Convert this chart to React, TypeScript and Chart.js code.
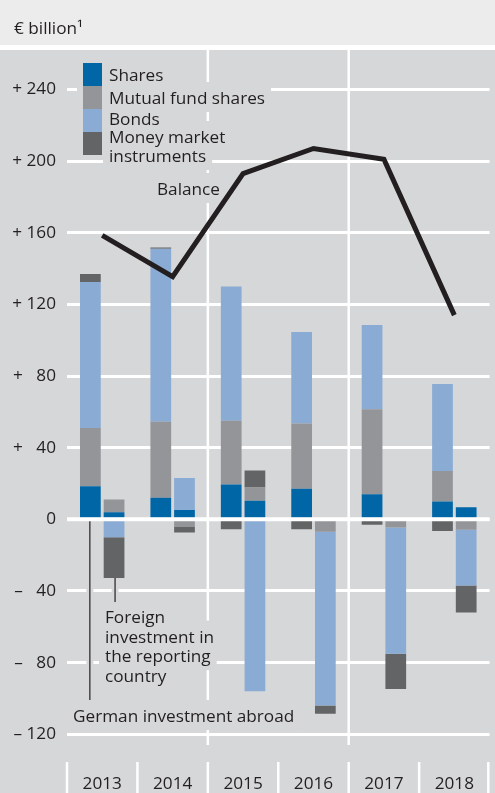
import React, { useEffect, useRef } from 'react';
import { Chart, registerables } from 'chart.js';

Chart.register(...registerables);

// ---------- data ----------
const YEARS = ['2013', '2014', '2015', '2016', '2017', '2018'];
const SERIES_LABELS = ['Shares', 'Mutual fund shares', 'Bonds', 'Money market instruments'];

// German investment abroad (left bar of each year)
const ABROAD_SHARES = [18.5, 12, 19.5, 17, 14, 10];
const ABROAD_FUNDS = [32.5, 42.5, 35.5, 36.5, 47.5, 17];
const ABROAD_BONDS = [81.5, 96.5, 75, 51, 47, 48.5];
const ABROAD_MONEY = [4.5, 0.8, -5.5, -5.5, -3, -6.5];

// Foreign investment in the reporting country (right bar of each year)
const FOREIGN_SHARES = [4, 5.2, 10.4, 0, 0, 6.7];
const FOREIGN_FUNDS = [7, -4.3, 7.4, -6.9, -4.6, -5.8];
const FOREIGN_BONDS = [-10, 17.9, -96, -97, -70.5, -31.2];
const FOREIGN_MONEY = [-22.7, -3.1, 9.5, -4.6, -19.7, -15];

// Balance line
const BALANCE = [158.5, 135.5, 193, 207, 201, 114];

const Y_TICKS = [-120, -80, -40, 0, 40, 80, 120, 160, 200, 240];
const SECTION_STARTS = ['2015', '2017'];

const TITLE = '€ billion¹';
const LEGEND_LINES = [['Shares'], ['Mutual fund shares'], ['Bonds'], ['Money market', 'instruments']];
const BALANCE_LABEL = 'Balance';
const FOREIGN_LABEL = ['Foreign', 'investment in', 'the reporting', 'country'];
const ABROAD_LABEL = 'German investment abroad';

// ---------- styles ----------
const COLORS = ['#0066a6', '#939598', '#8aabd3', '#636466'];
const FONT_FAMILY = '"Open Sans", "Noto Sans", sans-serif';
const FONT_SIZE = 17.2;
const TEXT = '#231f20';
const PLOT_BG = '#d6d7d9';
const HEAD_BG = '#ececed';

function fmtTick(v: number): string {
  if (v === 0) return '0';
  const a = Math.abs(v);
  const sign = v > 0 ? '+' : '–';
  return a < 100 ? sign + '   ' + a : sign + ' ' + a;
}

export default function App() {
  const ref = useRef<HTMLCanvasElement>(null);

  useEffect(() => {
    document.body.style.margin = '0';
    const canvas = ref.current!;
    const font = `${FONT_SIZE}px ${FONT_FAMILY}`;

    const halo = (ctx: CanvasRenderingContext2D, text: string, x: number, base: number) => {
      const w = ctx.measureText(text).width;
      ctx.fillStyle = PLOT_BG;
      ctx.fillRect(x - 6, base - 22, w + 12, 30);
    };

    const deco = {
      id: 'deco',
      beforeDraw(chart: any) {
        const { ctx, width, height } = chart;
        ctx.save();
        ctx.fillStyle = HEAD_BG;
        ctx.fillRect(0, 0, width, 45);
        ctx.fillStyle = '#ffffff';
        ctx.fillRect(0, 45, width, 5);
        ctx.fillStyle = PLOT_BG;
        ctx.fillRect(0, 50, width, height - 50);
        ctx.font = font;
        ctx.fillStyle = TEXT;
        ctx.textBaseline = 'alphabetic';
        ctx.fillText(TITLE, 14, 34);
        ctx.restore();
      },
      beforeDatasetsDraw(chart: any) {
        const { ctx, chartArea: ca, scales, height } = chart;
        const x = scales.x;
        const y = scales.y;
        const half = (x.getPixelForValue(1) - x.getPixelForValue(0)) / 2;
        ctx.save();
        // section lines
        ctx.strokeStyle = '#ffffff';
        ctx.lineWidth = 2.5;
        for (const yr of SECTION_STARTS) {
          const bx = x.getPixelForValue(YEARS.indexOf(yr)) - half;
          ctx.beginPath();
          ctx.moveTo(bx, ca.top);
          ctx.lineTo(bx, ca.bottom);
          ctx.stroke();
        }
        // axis separators
        for (let i = 0; i <= YEARS.length; i++) {
          const bx = Math.min(x.getPixelForValue(0) - half + i * 2 * half, ca.right - 1.25);
          ctx.beginPath();
          ctx.moveTo(bx, 762);
          ctx.lineTo(bx, height);
          ctx.stroke();
        }

        ctx.font = font;
        ctx.textBaseline = 'alphabetic';
        // legend halos
        ctx.fillStyle = PLOT_BG;
        ctx.fillRect(77, 57, 31, 101);
        const legendBases = [[81], [104], [125], [143, 162]];
        LEGEND_LINES.forEach((lines, i) => lines.forEach((t, j) => halo(ctx, t, 109, legendBases[i][j])));
        halo(ctx, BALANCE_LABEL, 157, 195);
        FOREIGN_LABEL.forEach((t, j) => halo(ctx, t, 105, 623 + j * 19.6));
        halo(ctx, ABROAD_LABEL, 73, 722);

        // leader lines
        const y0 = y.getPixelForValue(0);
        const abroadBar = chart.getDatasetMeta(1).data[0];
        const foreignBottom = chart.getDatasetMeta(8).data[0];
        const leaders = [
          [abroadBar.x - 0.5, y0, 700],
          [foreignBottom.x + 1, foreignBottom.y, 602],
        ];
        for (const [lx, y1, y2] of leaders) {
          ctx.strokeStyle = PLOT_BG;
          ctx.lineWidth = 7;
          ctx.beginPath();
          ctx.moveTo(lx, y1);
          ctx.lineTo(lx, y2);
          ctx.stroke();
          ctx.strokeStyle = TEXT;
          ctx.lineWidth = 1.2;
          ctx.beginPath();
          ctx.moveTo(lx, y1);
          ctx.lineTo(lx, y2);
          ctx.stroke();
        }

        // legend
        LEGEND_LINES.forEach((lines, i) => {
          ctx.fillStyle = COLORS[i];
          ctx.fillRect(83, 63 + i * 23, 19, 23);
          ctx.fillStyle = TEXT;
          lines.forEach((t, j) => ctx.fillText(t, 109, legendBases[i][j]));
        });
        ctx.fillStyle = TEXT;
        ctx.fillText(BALANCE_LABEL, 157, 195);
        FOREIGN_LABEL.forEach((t, j) => ctx.fillText(t, 105, 623 + j * 19.6));
        ctx.fillText(ABROAD_LABEL, 73, 722);
        ctx.restore();
      },
      afterDatasetsDraw(chart: any) {
        const { ctx, chartArea: ca, scales } = chart;
        const y0 = scales.y.getPixelForValue(0);
        ctx.save();
        ctx.strokeStyle = '#ffffff';
        ctx.lineWidth = 4;
        ctx.beginPath();
        ctx.moveTo(ca.left, y0);
        ctx.lineTo(ca.right, y0);
        ctx.stroke();
        ctx.restore();
      },
    };

    const abroad = [ABROAD_SHARES, ABROAD_FUNDS, ABROAD_BONDS, ABROAD_MONEY];
    const foreign = [FOREIGN_SHARES, FOREIGN_FUNDS, FOREIGN_BONDS, FOREIGN_MONEY];
    const barCommon = {
      type: 'bar' as const,
      categoryPercentage: 0.673,
      barPercentage: 0.875,
      borderWidth: 0,
    };

    const chart = new Chart(canvas, {
      type: 'bar',
      data: {
        labels: YEARS,
        datasets: [
          {
            type: 'line',
            label: 'Balance',
            data: BALANCE,
            borderColor: TEXT,
            borderWidth: 5,
            pointRadius: 0,
            tension: 0,
            order: -1,
            stack: 'balance',
            borderJoinStyle: 'miter',
            borderCapStyle: 'butt',
          } as any,
          ...abroad.map((d, i) => ({ ...barCommon, label: SERIES_LABELS[i], data: d, backgroundColor: COLORS[i], stack: 'abroad' })),
          ...foreign.map((d, i) => ({ ...barCommon, label: SERIES_LABELS[i], data: d, backgroundColor: COLORS[i], stack: 'foreign' })),
        ],
      },
      options: {
        responsive: false,
        animation: false,
        layout: { padding: { top: 50, left: 0, right: 0, bottom: 0 } },
        plugins: {
          legend: { display: false },
          tooltip: { enabled: false },
        },
        scales: {
          x: {
            stacked: true,
            offset: true,
            grid: { display: false },
            border: { display: false },
            ticks: {
              color: TEXT,
              font: { family: FONT_FAMILY, size: FONT_SIZE },
              padding: 21,
              maxRotation: 0,
              autoSkip: false,
            },
            afterFit: (s: any) => {
              s.height = 48;
            },
          },
          y: {
            stacked: true,
            min: -126,
            max: 262,
            grid: { color: '#ffffff', lineWidth: 3, drawTicks: false },
            border: { display: false },
            ticks: {
              color: TEXT,
              font: { family: FONT_FAMILY, size: FONT_SIZE },
              padding: 11,
              callback: (v: any) => fmtTick(Number(v)),
            },
            afterBuildTicks: (s: any) => {
              s.ticks = Y_TICKS.map((v) => ({ value: v }));
            },
            afterFit: (s: any) => {
              s.width = 67;
            },
          },
        },
      },
      plugins: [deco],
    } as any);

    return () => chart.destroy();
  }, []);

  return (
    <div style={{ width: 495, height: 793 }}>
      <canvas ref={ref} width={495} height={793} style={{ display: 'block', width: 495, height: 793 }} />
    </div>
  );
}
